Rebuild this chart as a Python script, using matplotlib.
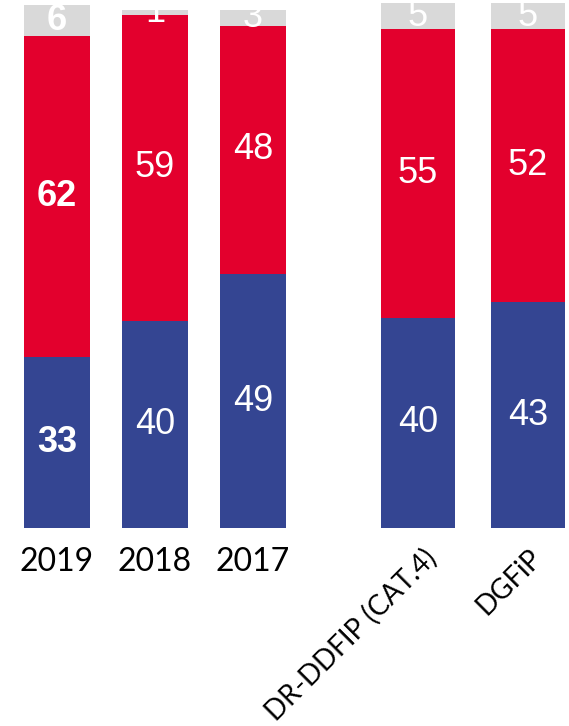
import matplotlib.pyplot as plt
import matplotlib.transforms as mtransforms

years = ["2019", "2018", "2017"]
blue_years = [33, 40, 49]
red_years = [62, 59, 48]
grey_years = [6, 1, 3]

groups = ["DR-DDFIP (CAT.4)", "DGFiP"]
blue_groups = [40, 43]
red_groups = [55, 52]
grey_groups = [5, 5]

BLUE = "#344592"
RED = "#E3002D"
GREY = "#D9D9D9"

W, H = 569, 726
fig = plt.figure(figsize=(W / 100, H / 100), dpi=100)


def stacked(ax, cats, blue, red, grey, bold_first=False):
    x = list(range(len(cats)))
    ax.bar(x, blue, width=0.673, color=BLUE)
    ax.bar(x, red, width=0.673, bottom=blue, color=RED)
    bot = [b + r for b, r in zip(blue, red)]
    ax.bar(x, grey, width=0.673, bottom=bot, color=GREY)
    for vals, base in ((blue, [0] * len(x)), (red, blue), (grey, bot)):
        for i, (v, b0) in enumerate(zip(vals, base)):
            ax.text(i, b0 + v / 2, str(v), ha="center", va="center",
                    color="white", fontsize=26, family="Liberation Sans",
                    fontweight="bold" if (bold_first and i == 0) else "normal",
                    clip_on=False)
    for s in ax.spines.values():
        s.set_visible(False)
    ax.set_yticks([])
    ax.tick_params(axis="x", length=0)


# left chart: years
ax1 = fig.add_axes([0, 198 / H, 300 / W, 528 / H])
stacked(ax1, years, blue_years, red_years, grey_years, bold_first=True)
ax1.set_xlim(-57 / 98, -57 / 98 + 300 / 98)
ax1.set_ylim(0, 528 / 5.18)
ax1.set_xticks(range(3))
ax1.set_xticklabels(years, fontsize=23, family="Lato")
ax1.tick_params(axis="x", pad=14)

# right chart: comparisons
ax2 = fig.add_axes([360 / W, 198 / H, 209 / W, 528 / H])
stacked(ax2, groups, blue_groups, red_groups, grey_groups)
ax2.set_xlim((360 - 418) / 110, (569 - 418) / 110)
ax2.set_ylim(0, 528 / 5.25)
ax2.set_xticks([])
base = mtransforms.blended_transform_factory(ax2.transData, ax2.transAxes)
for i, (name, dx) in enumerate(zip(groups, [5, 0])):
    off = mtransforms.ScaledTranslation(dx / 100, -16 / 100, fig.dpi_scale_trans)
    ax2.text(i, 0, name, transform=base + off, rotation=45, ha="right", va="top",
             rotation_mode="anchor", fontsize=20, family="Lato", clip_on=False)

fig.savefig("out.png", dpi=100)
